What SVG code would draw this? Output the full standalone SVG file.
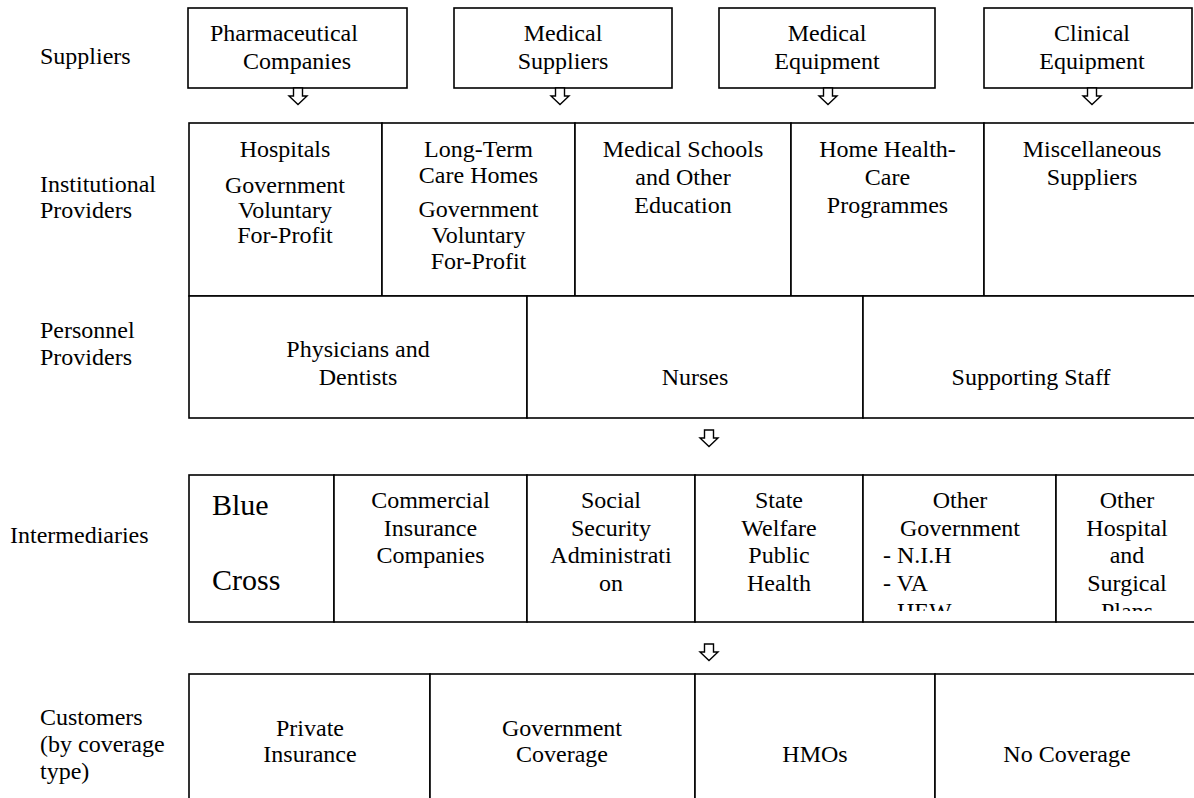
<svg xmlns="http://www.w3.org/2000/svg" xmlns:xlink="http://www.w3.org/1999/xlink" width="1194" height="798" viewBox="0 0 1194 798">
  <style>
    .box { fill: #fff; stroke: #000; stroke-width: 1.6; }
    .t { font-family: "Liberation Serif", "Times New Roman", serif; font-size: 24px; fill: #000; text-anchor: middle; }
    .l { text-anchor: start; }
    .big { font-size: 30px; }
    .arrow { fill: #fff; stroke: #000; stroke-width: 1.4; stroke-linejoin: miter; }
  </style>
  <defs>
    <!-- hollow block arrow pointing down, origin at top centre -->
    <path id="arr" class="arrow" d="M-4.5,0 h9 v8 h4.5 l-9,8.5 l-9,-8.5 h4.5 z"/>
    <clipPath id="midClip"><rect x="0" y="475" width="1194" height="136"/></clipPath>
  </defs>
  <rect width="1194" height="798" fill="#fff"/>

  <!-- row labels -->
  <g id="row-labels">
    <text class="t l" x="40" y="64">Suppliers</text>
    <text class="t l" x="40" y="192">Institutional</text>
    <text class="t l" x="40" y="218">Providers</text>
    <text class="t l" x="40" y="338">Personnel</text>
    <text class="t l" x="40" y="365">Providers</text>
    <text class="t l" x="10" y="543">Intermediaries</text>
    <text class="t l" x="40" y="725">Customers</text>
    <text class="t l" x="40" y="752">(by coverage</text>
    <text class="t l" x="40" y="779">type)</text>
  </g>

  <!-- suppliers -->
  <g id="pharmaceutical-companies">
    <rect class="box" x="188" y="8" width="219" height="80"/>
    <text class="t l" x="210" y="41">Pharmaceutical</text>
    <text class="t" x="297" y="69">Companies</text>
  </g>
  <g id="medical-suppliers">
    <rect class="box" x="454" y="8" width="218" height="80"/>
    <text class="t" x="563" y="41">Medical</text>
    <text class="t" x="563" y="69">Suppliers</text>
  </g>
  <g id="medical-equipment">
    <rect class="box" x="719" y="8" width="216" height="80"/>
    <text class="t" x="827" y="41">Medical</text>
    <text class="t" x="827" y="69">Equipment</text>
  </g>
  <g id="clinical-equipment">
    <rect class="box" x="984" y="8" width="208" height="80"/>
    <text class="t" x="1092" y="41">Clinical</text>
    <text class="t" x="1092" y="69">Equipment</text>
  </g>

  <!-- institutional providers -->
  <g id="hospitals">
    <rect class="box" x="189" y="123" width="193" height="173"/>
    <text class="t" x="285" y="157">Hospitals</text>
    <text class="t" x="285" y="193">Government</text>
    <text class="t" x="285" y="218">Voluntary</text>
    <text class="t" x="285" y="243">For-Profit</text>
  </g>
  <g id="long-term-care">
    <rect class="box" x="382" y="123" width="193" height="173"/>
    <text class="t" x="478.5" y="157">Long-Term</text>
    <text class="t" x="478.5" y="183">Care Homes</text>
    <text class="t" x="478.5" y="217">Government</text>
    <text class="t" x="478.5" y="243">Voluntary</text>
    <text class="t" x="478.5" y="269">For-Profit</text>
  </g>
  <g id="medical-schools">
    <rect class="box" x="575" y="123" width="216" height="173"/>
    <text class="t" x="683" y="157">Medical Schools</text>
    <text class="t" x="683" y="185">and Other</text>
    <text class="t" x="683" y="213">Education</text>
  </g>
  <g id="home-health-care">
    <rect class="box" x="791" y="123" width="193" height="173"/>
    <text class="t" x="887.5" y="157">Home Health-</text>
    <text class="t" x="887.5" y="185">Care</text>
    <text class="t" x="887.5" y="213">Programmes</text>
  </g>
  <g id="miscellaneous-suppliers">
    <rect class="box" x="984" y="123" width="216" height="173"/>
    <text class="t" x="1092" y="157">Miscellaneous</text>
    <text class="t" x="1092" y="185">Suppliers</text>
  </g>

  <!-- personnel providers -->
  <g id="physicians-dentists">
    <rect class="box" x="189" y="296" width="338" height="122"/>
    <text class="t" x="358" y="357">Physicians and</text>
    <text class="t" x="358" y="385">Dentists</text>
  </g>
  <g id="nurses">
    <rect class="box" x="527" y="296" width="336" height="122"/>
    <text class="t" x="695" y="385">Nurses</text>
  </g>
  <g id="supporting-staff">
    <rect class="box" x="863" y="296" width="337" height="122"/>
    <text class="t" x="1031" y="385">Supporting Staff</text>
  </g>

  <!-- intermediaries -->
  <g id="blue-cross">
    <rect class="box" x="189" y="475" width="145" height="147"/>
    <text class="t l big" x="212" y="515">Blue</text>
    <text class="t l big" x="212" y="590">Cross</text>
  </g>
  <g id="commercial-insurance">
    <rect class="box" x="334" y="475" width="193" height="147"/>
    <text class="t" x="430.5" y="508">Commercial</text>
    <text class="t" x="430.5" y="536">Insurance</text>
    <text class="t" x="430.5" y="563">Companies</text>
  </g>
  <g id="social-security">
    <rect class="box" x="527" y="475" width="168" height="147"/>
    <text class="t" x="611" y="508">Social</text>
    <text class="t" x="611" y="536">Security</text>
    <text class="t" x="611" y="563">Administrati</text>
    <text class="t" x="611" y="591">on</text>
  </g>
  <g id="state-welfare">
    <rect class="box" x="695" y="475" width="168" height="147"/>
    <text class="t" x="779" y="508">State</text>
    <text class="t" x="779" y="536">Welfare</text>
    <text class="t" x="779" y="563">Public</text>
    <text class="t" x="779" y="591">Health</text>
  </g>
  <g id="other-government">
    <rect class="box" x="863" y="475" width="193" height="147"/>
    <g clip-path="url(#midClip)">
      <text class="t" x="960" y="508">Other</text>
      <text class="t" x="960" y="536">Government</text>
      <text class="t l" x="883" y="563">- N.I.H</text>
      <text class="t l" x="883" y="591">- VA</text>
      <text class="t l" x="883" y="619">- HEW</text>
    </g>
  </g>
  <g id="other-hospital-plans">
    <rect class="box" x="1056" y="475" width="144" height="147"/>
    <g clip-path="url(#midClip)">
      <text class="t" x="1127" y="508">Other</text>
      <text class="t" x="1127" y="536">Hospital</text>
      <text class="t" x="1127" y="563">and</text>
      <text class="t" x="1127" y="591">Surgical</text>
      <text class="t" x="1127" y="619">Plans</text>
    </g>
  </g>

  <!-- customers -->
  <g id="private-insurance">
    <rect class="box" x="189" y="674" width="241" height="140"/>
    <text class="t" x="310" y="736">Private</text>
    <text class="t" x="310" y="762">Insurance</text>
  </g>
  <g id="government-coverage">
    <rect class="box" x="430" y="674" width="265" height="140"/>
    <text class="t" x="562" y="736">Government</text>
    <text class="t" x="562" y="762">Coverage</text>
  </g>
  <g id="hmos">
    <rect class="box" x="695" y="674" width="240" height="140"/>
    <text class="t" x="815" y="762">HMOs</text>
  </g>
  <g id="no-coverage">
    <rect class="box" x="935" y="674" width="265" height="140"/>
    <text class="t" x="1067" y="762">No Coverage</text>
  </g>

  <!-- flow arrows -->
  <g id="connectors">
    <use xlink:href="#arr" x="298" y="88"/>
    <use xlink:href="#arr" x="560" y="88"/>
    <use xlink:href="#arr" x="828" y="88"/>
    <use xlink:href="#arr" x="1092" y="88"/>
    <use xlink:href="#arr" x="709" y="430"/>
    <use xlink:href="#arr" x="709" y="644"/>
  </g>
</svg>
